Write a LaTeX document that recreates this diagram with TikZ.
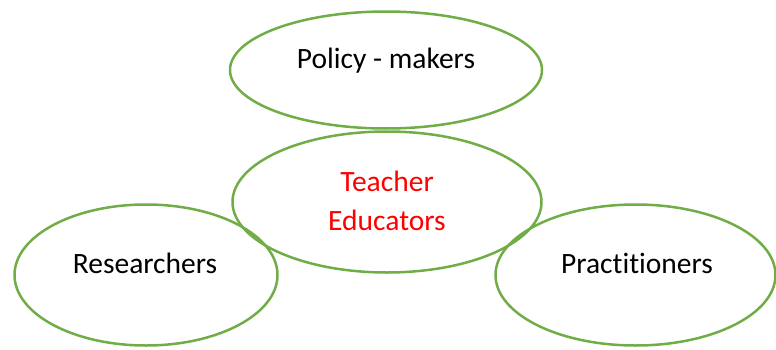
\documentclass[tikz,border=0pt]{standalone}
\usepackage{fontspec}
\setmainfont{Carlito}[Ligatures=NoCommon]
\usetikzlibrary{shapes.geometric}
\definecolor{leafgreen}{RGB}{112,173,71}
\definecolor{tered}{RGB}{255,0,0}
\begin{document}
\begin{tikzpicture}[x=1pt,y=1pt,
  oval/.style={draw=leafgreen,line width=2.5pt,ellipse,inner sep=0pt},
  word/.style={font=\fontsize{29.5}{39}\selectfont,align=center,inner sep=0pt,anchor=base}]
\useasboundingbox (0,0) rectangle (776,349);
\node[oval,minimum width=312pt,minimum height=117pt] (policy) at (386,279) {};
\node[oval,minimum width=309pt,minimum height=141pt] (teacher) at (387,147) {};
\node[oval,minimum width=263pt,minimum height=141pt] (research) at (146,74) {};
\node[oval,minimum width=280pt,minimum height=141pt] (practice) at (635.5,74) {};
\node[word] (policyT) at (386,281) {Policy - makers};
\node[word,text=tered] (teacherT) at (387,119) {Teacher\\Educators};
\node[word] (researchT) at (145,76) {Researchers};
\node[word] (practiceT) at (637,76) {Practitioners};
\end{tikzpicture}
\end{document}
